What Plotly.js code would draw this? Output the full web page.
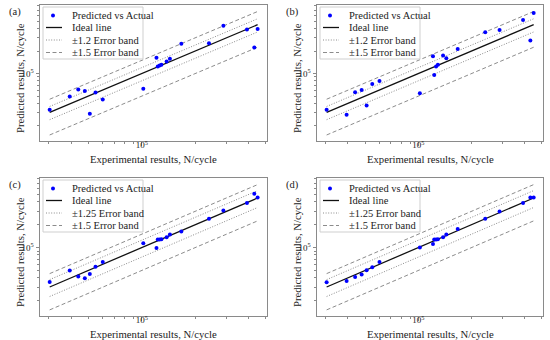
<!DOCTYPE html>
<html><head><meta charset="utf-8">
<script src="https://cdn.plot.ly/plotly-3.0.1.min.js"></script>
<style>html,body{margin:0;padding:0;background:#fff}</style>
</head><body><div id="chart" style="width:550px;height:340px"></div>
<script>
// Shared experimental lives (N/cycle)
const experimental = [30300, 39300, 43900, 47800, 51000, 54900, 60300, 102000, 121000, 123000, 126000, 129000, 138000, 144000, 167000, 239000, 288000, 391000, 430000, 449000];
// Predicted lives for each model
const predictedA = [32800, 49300, 61200, 58700, 29000, 55800, 45000, 62500, 162000, 124000, 128000, 131000, 145000, 158000, 249000, 254000, 436000, 386000, 222000, 394000];
const predictedB = [32800, 28100, 56400, 60500, 37400, 72800, 79800, 54700, 170000, 96000, 124000, 131000, 174000, 160000, 213000, 356000, 382000, 520000, 276000, 644000];
const predictedC = [35200, 49900, 41500, 39400, 45000, 55800, 64400, 114000, 99000, 128000, 128000, 129000, 137000, 149000, 163000, 239000, 308000, 386000, 509000, 455000];
const predictedD = [34900, 36300, 41000, 44100, 50400, 55200, 64400, 100000, 111000, 128000, 128000, 129000, 137000, 149000, 175000, 239000, 299000, 386000, 455000, 455000];
const panelLabels = ['(a)', '(b)', '(c)', '(d)'];
const innerBands = [1.2, 1.2, 1.25, 1.25];
const outerBand = 1.5;
const majorTickVals = [1e5];
const majorTickText = ['10<sup>5</sup>'];
const xMinorTicks = [3e4, 4e4, 5e4, 6e4, 7e4, 8e4, 9e4, 2e5, 3e5, 4e5, 5e5];
const yMinorTicks = [2e4, 3e4, 4e4, 5e4, 6e4, 7e4, 8e4, 9e4, 2e5, 3e5, 4e5, 5e5, 6e5, 7e5, 8e5];
const xTitle = 'Experimental results, N/cycle';
const yTitle = 'Predicted results, N/cycle';

const predicted = [predictedA, predictedB, predictedC, predictedD];
const FONT = 'Liberation Serif, Times New Roman, serif';
const W = 550, H = 340;
const BAND = '#8c8c8c';
const INNER_DASH = '1px,1.6px';
const OUTER_DASH = '4px,2.5px';
// panel plot boxes in pixels [left, right, top, bottom]
const boxes = [[40, 267, 5, 141], [317, 543, 5, 141], [40, 267, 178, 316], [317, 543, 178, 316]];

const xmin = Math.min(...experimental), xmax = Math.max(...experimental);
const lineX = [xmin, xmax];
const traces = [];
const layout = {
  width: W, height: H, margin: {l: 0, r: 0, t: 0, b: 0},
  paper_bgcolor: '#fff', plot_bgcolor: '#fff', showlegend: false,
  font: {family: FONT, size: 10.5, color: '#222'},
  annotations: [], shapes: []
};
const px = v => v / W, py = v => 1 - v / H;
function txt(text, x, y, opts) {
  layout.annotations.push(Object.assign({text: text, xref: 'paper', yref: 'paper', x: px(x), y: py(y),
    xanchor: 'left', yanchor: 'middle', showarrow: false, font: {family: FONT, size: 10.5, color: '#222'}}, opts || {}));
}
function seg(x0, x1, y, line) {
  layout.shapes.push({type: 'line', xref: 'paper', yref: 'paper', x0: px(x0), x1: px(x1), y0: py(y), y1: py(y), line: line, layer: 'above'});
}

for (let i = 0; i < 4; i++) {
  const n = i === 0 ? '' : String(i + 1);
  const xa = 'x' + n, ya = 'y' + n;
  const b = boxes[i];
  const inner = innerBands[i];
  const names = ['Predicted vs Actual', 'Ideal line', '\u00b1' + inner + ' Error band', '\u00b1' + outerBand + ' Error band'];
  const common = {xaxis: xa, yaxis: ya, mode: 'lines', hoverinfo: 'skip'};
  traces.push(Object.assign({type: 'scatter', x: lineX, y: lineX.map(v => v * inner), name: names[2],
    line: {color: BAND, width: 1, dash: INNER_DASH}}, common));
  traces.push(Object.assign({type: 'scatter', x: lineX, y: lineX.map(v => v * (2 - inner)), name: names[2],
    line: {color: BAND, width: 1, dash: INNER_DASH}}, common));
  traces.push(Object.assign({type: 'scatter', x: lineX, y: lineX.map(v => v * outerBand), name: names[3],
    line: {color: BAND, width: 1, dash: OUTER_DASH}}, common));
  traces.push(Object.assign({type: 'scatter', x: lineX, y: lineX.map(v => v * (2 - outerBand)), name: names[3],
    line: {color: BAND, width: 1, dash: OUTER_DASH}}, common));
  traces.push(Object.assign({type: 'scatter', x: lineX, y: lineX, name: names[1],
    line: {color: '#111', width: 1.3}}, common));
  traces.push({type: 'scatter', mode: 'markers', x: experimental, y: predicted[i], xaxis: xa, yaxis: ya,
    name: names[0], marker: {color: '#0000ff', size: 4}});

  const axCommon = {type: 'log', showgrid: false, zeroline: false, showline: true, mirror: true,
    linecolor: '#8a8a8a', linewidth: 1, ticks: 'outside', ticklen: 3.5, tickwidth: 1, tickcolor: '#8a8a8a',
    tickmode: 'array', tickvals: majorTickVals, ticktext: majorTickText,
    tickfont: {family: FONT, size: 9, color: '#222'}};
  layout['xaxis' + n] = Object.assign({}, axCommon, {
    domain: [b[0] / W, b[1] / W], anchor: ya, range: [4.427, 5.705], ticklabelstandoff: -8,
    minor: {tickmode: 'array', tickvals: xMinorTicks, ticks: 'outside', ticklen: 2, tickcolor: '#8a8a8a', showgrid: false}
  });
  layout['yaxis' + n] = Object.assign({}, axCommon, {
    domain: [1 - b[3] / H, 1 - b[2] / H], anchor: xa, range: [4.10, 5.915],
    minor: {tickmode: 'array', tickvals: yMinorTicks, ticks: 'outside', ticklen: 2, tickcolor: '#8a8a8a', showgrid: false}
  });

  // axis titles
  txt(xTitle, (b[0] + b[1]) / 2, b[3] + 17.5, {xanchor: 'center', font: {family: FONT, size: 10.7, color: '#222'}});
  txt(yTitle, b[0] - 20, (b[2] + b[3]) / 2 + 5, {xanchor: 'center', textangle: -90, font: {family: FONT, size: 10.7, color: '#222'}});
  // panel label
  txt(panelLabels[i], b[0] - 33, b[2] + 7);

  // legend (drawn as decoration)
  const lx = b[0] + 3, ly = b[2] + 2;
  layout.shapes.push({type: 'rect', xref: 'paper', yref: 'paper', x0: px(lx), x1: px(lx + 100), y0: py(ly), y1: py(ly + 52),
    line: {color: '#cfcfcf', width: 1}, fillcolor: 'rgba(255,255,255,0.85)', layer: 'above'});
  const rows = [ly + 8.5, ly + 20.5, ly + 33, ly + 45.5];
  layout.shapes.push({type: 'circle', xref: 'paper', yref: 'paper', x0: px(lx + 8), x1: px(lx + 12), y0: py(rows[0] + 2), y1: py(rows[0] - 2),
    line: {width: 0}, fillcolor: '#0000ff', layer: 'above'});
  seg(lx + 3, lx + 19, rows[1], {color: '#111', width: 1.3});
  seg(lx + 3, lx + 19, rows[2], {color: BAND, width: 1, dash: INNER_DASH});
  seg(lx + 3, lx + 19, rows[3], {color: BAND, width: 1, dash: OUTER_DASH});
  for (let k = 0; k < 4; k++) txt(names[k], lx + 27, rows[k]);
}

Plotly.newPlot('chart', traces, layout, {staticPlot: true, displayModeBar: false});
</script></body></html>
